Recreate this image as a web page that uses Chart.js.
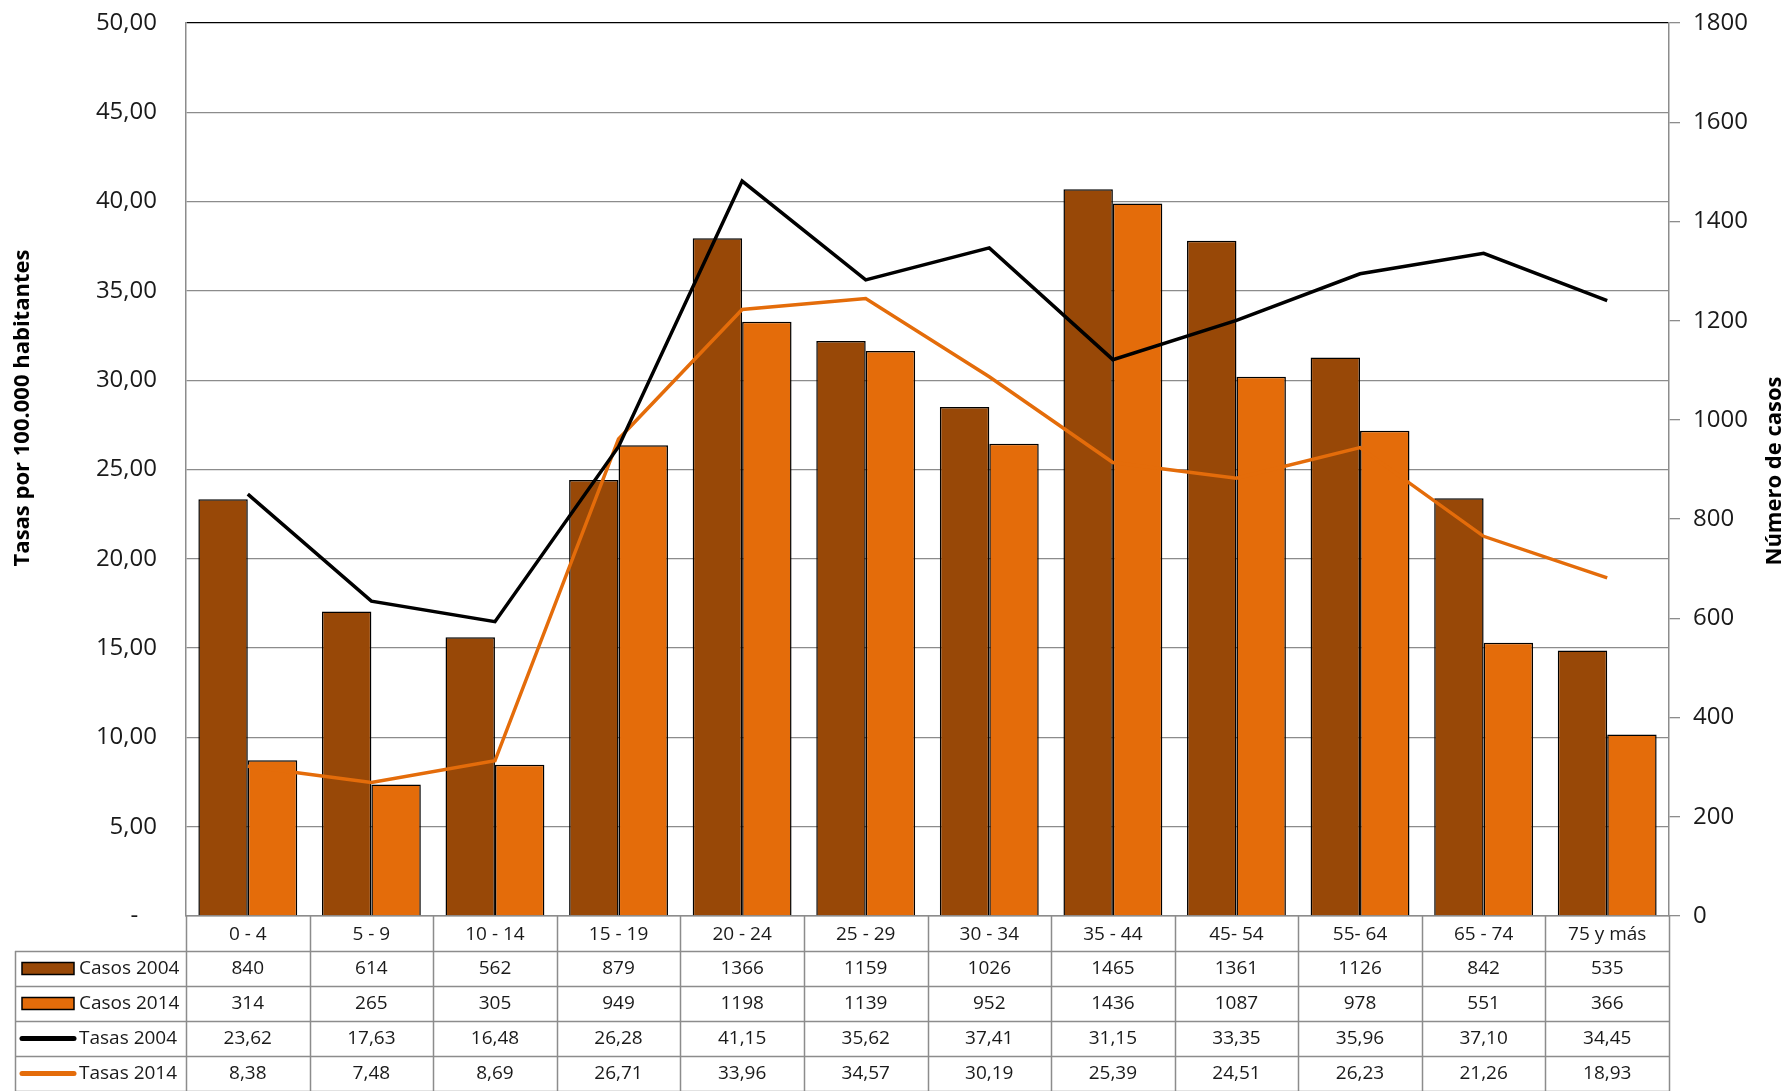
<!DOCTYPE html>
<html lang="es">
<head>
<meta charset="utf-8">
<title>Casos y tasas por grupo de edad 2004 - 2014</title>
<script src="https://cdn.jsdelivr.net/npm/chart.js@4.4.1/dist/chart.umd.min.js"></script>
<style>
  html, body { margin: 0; padding: 0; background: #fff; }
  #wrap { width: 1789px; height: 1091px; position: relative; }
</style>
</head>
<body>
<div id="wrap"><canvas id="grafico"></canvas></div>
<script>
const gruposEdad = ['0 - 4', '5 - 9', '10 - 14', '15 - 19', '20 - 24', '25 - 29', '30 - 34', '35 - 44', '45- 54', '55- 64', '65 - 74', '75 y más'];
const casos2004  = [840, 614, 562, 879, 1366, 1159, 1026, 1465, 1361, 1126, 842, 535];
const casos2014  = [314, 265, 305, 949, 1198, 1139, 952, 1436, 1087, 978, 551, 366];
const tasas2004  = [23.62, 17.63, 16.48, 26.28, 41.15, 35.62, 37.41, 31.15, 33.35, 35.96, 37.10, 34.45];
const tasas2014  = [8.38, 7.48, 8.69, 26.71, 33.96, 34.57, 30.19, 25.39, 24.51, 26.23, 21.26, 18.93];

// escalas
const tasasMax = 50, tasasPaso = 5;
const casosMax = 1800, casosPaso = 200;

// colores
const MARRON  = '#984807';
const NARANJA = '#E46C0A';
const GRIS    = '#8c8c8c';
const TEXTO   = '#1a1a1a';
const FUENTE  = "'Open Sans', sans-serif";

const fmtComa = v => v.toFixed(2).replace('.', ',');

// ── Tabla de datos bajo el eje X + titulos de ejes ──
const tablaDatos = {
  id: 'tablaDatos',
  afterDraw(chart) {
    const ctx = chart.ctx;
    const xs = chart.scales.x;
    const area = chart.chartArea;
    const n = gruposEdad.length;
    const colW = (xs.right - xs.left) / n;
    const top = area.bottom;
    const headH = 35, rowH = 35;
    const leftX = 15;
    const bottom = chart.height + 4;

    const filas = [
      { nombre: 'Casos 2004', datos: casos2004, tipo: 'barra', color: MARRON,  fmt: v => String(v) },
      { nombre: 'Casos 2014', datos: casos2014, tipo: 'barra', color: NARANJA, fmt: v => String(v) },
      { nombre: 'Tasas 2004', datos: tasas2004, tipo: 'linea', color: '#000',  fmt: fmtComa },
      { nombre: 'Tasas 2014', datos: tasas2014, tipo: 'linea', color: NARANJA, fmt: fmtComa }
    ];

    ctx.save();
    ctx.strokeStyle = GRIS;
    ctx.lineWidth = 1.5;

    // lineas horizontales
    ctx.beginPath();
    for (let r = 0; r <= filas.length; r++) {
      const y = Math.round(top + headH + r * rowH) + 0.5;
      ctx.moveTo(leftX, y);
      ctx.lineTo(xs.right, y);
    }
    // lineas verticales
    for (let i = 0; i <= n; i++) {
      const x = Math.round(xs.left + i * colW) + 0.5;
      ctx.moveTo(x, top);
      ctx.lineTo(x, bottom);
    }
    ctx.moveTo(leftX + 0.5, top + headH);
    ctx.lineTo(leftX + 0.5, bottom);
    ctx.stroke();

    // celdas
    ctx.font = `19px ${FUENTE}`;
    ctx.textBaseline = 'middle';
    filas.forEach((f, r) => {
      const yc = top + headH + r * rowH + rowH / 2;
      // simbolo de leyenda
      if (f.tipo === 'barra') {
        ctx.fillStyle = f.color;
        ctx.fillRect(22, yc - 6, 52, 12);
        ctx.strokeStyle = '#000';
        ctx.lineWidth = 1.5;
        ctx.strokeRect(22, yc - 6, 52, 12);
      } else {
        ctx.strokeStyle = f.color;
        ctx.lineWidth = 5;
        ctx.lineCap = 'round';
        ctx.beginPath();
        ctx.moveTo(22, yc);
        ctx.lineTo(74, yc);
        ctx.stroke();
      }
      ctx.fillStyle = TEXTO;
      ctx.textAlign = 'left';
      ctx.fillText(f.nombre, 79, yc);
      ctx.textAlign = 'center';
      f.datos.forEach((v, i) => {
        ctx.fillText(f.fmt(v), xs.getPixelForValue(i), yc);
      });
    });

    // titulos de ejes
    ctx.fillStyle = '#000';
    ctx.font = `bold 22px ${FUENTE}`;
    ctx.textAlign = 'center';
    ctx.save();
    ctx.translate(23, 408);
    ctx.rotate(-Math.PI / 2);
    ctx.fillText('Tasas por 100.000 habitantes', 0, 0);
    ctx.restore();
    ctx.save();
    ctx.translate(1775, 471);
    ctx.rotate(-Math.PI / 2);
    ctx.fillText('Número de casos', 0, 0);
    ctx.restore();

    ctx.restore();
  }
};

// quita el relleno extra que Chart.js reserva arriba/abajo de los ejes verticales
const sinRelleno = (s, ancho) => {
  s.width = ancho;
  s.paddingTop = 0;
  s.paddingBottom = 0;
};

const canvas = document.getElementById('grafico');
new Chart(canvas, {
  type: 'bar',
  data: {
    labels: gruposEdad,
    datasets: [
      {
        type: 'line', label: 'Tasas 2004', data: tasas2004, yAxisID: 'y',
        borderColor: '#000', borderWidth: 3.5, pointRadius: 0, tension: 0, order: 0
      },
      {
        type: 'line', label: 'Tasas 2014', data: tasas2014, yAxisID: 'y',
        borderColor: NARANJA, borderWidth: 3.5, pointRadius: 0, tension: 0, order: 0
      },
      {
        label: 'Casos 2004', data: casos2004, yAxisID: 'y1',
        backgroundColor: MARRON, borderColor: '#000', borderWidth: 1.5,
        categoryPercentage: 0.8, barPercentage: 1, order: 1
      },
      {
        label: 'Casos 2014', data: casos2014, yAxisID: 'y1',
        backgroundColor: NARANJA, borderColor: '#000', borderWidth: 1.5,
        categoryPercentage: 0.8, barPercentage: 1, order: 1
      }
    ]
  },
  options: {
    responsive: true,
    maintainAspectRatio: false,
    animation: false,
    devicePixelRatio: 1,
    layout: { padding: { top: 23, left: 0, right: 0, bottom: 0 } },
    plugins: {
      legend: { display: false },
      tooltip: { enabled: false }
    },
    scales: {
      x: {
        grid: { display: false, drawTicks: false },
        border: { display: true, color: GRIS, width: 1.5 },
        ticks: { color: TEXTO, font: { family: FUENTE, size: 19 }, padding: 7, maxRotation: 0, autoSkip: false },
        afterFit: s => { s.height = 175; }
      },
      y: {
        position: 'left',
        min: 0, max: tasasMax,
        grid: {
          drawTicks: false,
          lineWidth: 1.3,
          color: c => c.tick && c.tick.value === tasasMax ? '#000' : GRIS
        },
        border: { display: true, color: GRIS, width: 1.5 },
        ticks: {
          stepSize: tasasPaso,
          padding: 29,
          color: TEXTO,
          font: { family: FUENTE, size: 24 },
          callback: v => v === 0 ? '-\u00a0\u00a0\u00a0' : fmtComa(v)
        },
        afterFit: s => sinRelleno(s, 186)
      },
      y1: {
        position: 'right',
        min: 0, max: casosMax,
        grid: { drawOnChartArea: false, drawTicks: true, tickLength: 11, color: GRIS, lineWidth: 1.3 },
        border: { display: true, color: GRIS, width: 1.5 },
        ticks: {
          stepSize: casosPaso,
          padding: 13,
          color: TEXTO,
          font: { family: FUENTE, size: 24 },
          callback: v => String(v)
        },
        afterFit: s => sinRelleno(s, 120)
      }
    }
  },
  plugins: [tablaDatos]
});
</script>
</body>
</html>
